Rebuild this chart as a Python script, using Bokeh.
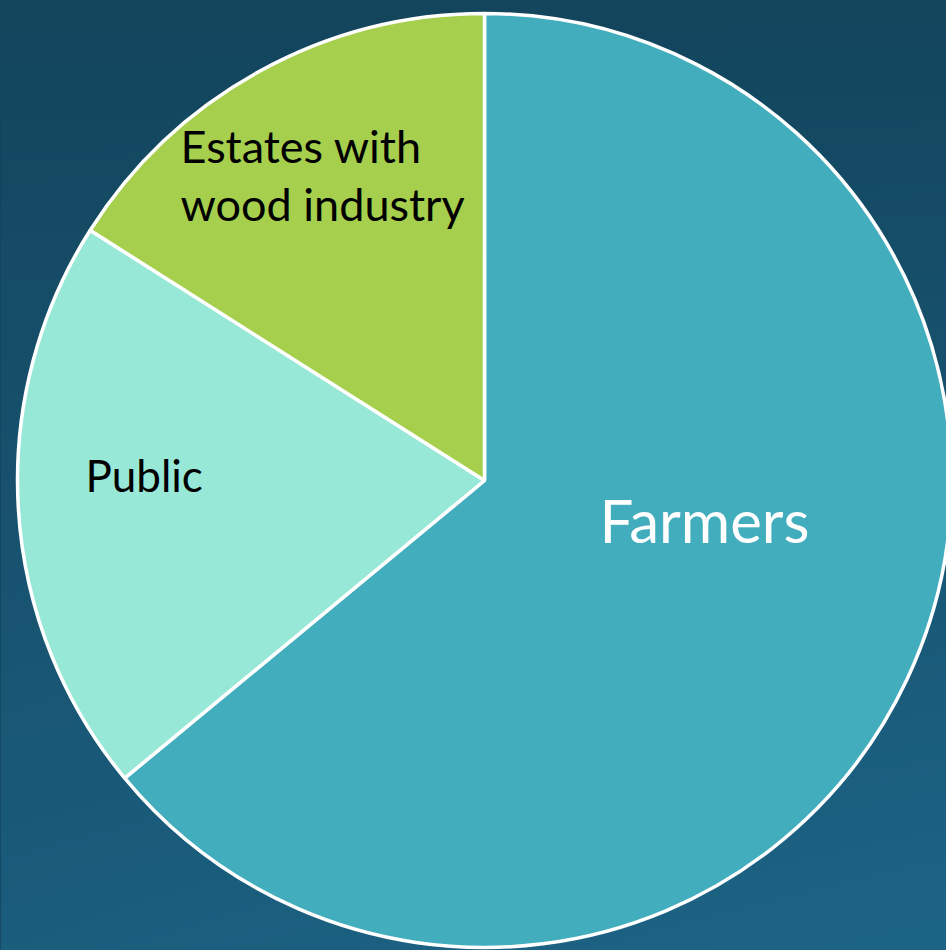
import numpy as np
from bokeh.plotting import figure
from bokeh.models import Range1d, ColumnDataSource
from bokeh.core.properties import value
from bokeh.embed import file_html
from bokeh.resources import INLINE

# ---- data ----
categories = ["Farmers", "Public", "Estates with\nwood industry"]
shares = [64, 20, 16]
colors = ["#42aebd", "#98e8d7", "#a5cf4d"]
label_colors = ["#ffffff", "#000000", "#000000"]

# ---- layout constants ----
W, H = 946, 950
CX, CY, R = 484, 470, 467
label_x = [704, 85, 180]
label_y = [431, 476, 805]
label_align = ["center", "left", "left"]
label_size = [60, 44, 45]
line_step = 58

p = figure(width=W, height=H, x_range=Range1d(0, W), y_range=Range1d(0, H),
           output_backend="svg", toolbar_location=None, min_border=0,
           outline_line_color=None, background_fill_color="#13455d",
           border_fill_color="#13455d")
p.axis.visible = False
p.grid.visible = False

# background gradient (style only)
ny, nx = 120, 120
top = np.array([0x13, 0x45, 0x5d], dtype=float)
bot_l = np.array([0x1b, 0x5d, 0x7d], dtype=float)
bot_r = np.array([0x1d, 0x65, 0x87], dtype=float)
img = np.empty((ny, nx), dtype=np.uint32)
view = img.view(dtype=np.uint8).reshape((ny, nx, 4))
for j in range(ny):
    t = j / (ny - 1)  # 0 bottom, 1 top
    for i in range(nx):
        s = i / (nx - 1)
        bot = bot_l * (1 - s) + bot_r * s
        c = bot * (1 - t) + top * t
        view[j, i, 0] = int(c[0]); view[j, i, 1] = int(c[1]); view[j, i, 2] = int(c[2]); view[j, i, 3] = 255
p.image_rgba(image=[img], x=0, y=0, dw=W, dh=H)

# wedges, clockwise from 12 o'clock
total = float(sum(shares))
starts, ends = [], []
a = np.pi / 2
for v in shares:
    starts.append(a)
    a = a - 2 * np.pi * v / total
    ends.append(a)

src = ColumnDataSource(dict(start=starts, end=ends, color=colors))
p.wedge(x=CX, y=CY, radius=R, start_angle="start", end_angle="end",
        direction="clock", fill_color="color", line_color="white",
        line_width=3.5, source=src)

for cat, col, lx, ly, al, fs in zip(categories, label_colors, label_x, label_y,
                                      label_align, label_size):
    for k, line in enumerate(cat.split("\n")):
        p.text(x=[lx], y=[ly - k * line_step], text=[line], text_color=col,
               text_align=al, text_baseline="alphabetic",
               text_font=value("Lato"), text_font_size=f"{fs}px")

html = file_html(p, INLINE)
html = html.replace("<head>", "<head><style>html,body{margin:0;padding:0;background:#13455d;overflow:hidden}</style>", 1)
open("out.html", "w").write(html)
